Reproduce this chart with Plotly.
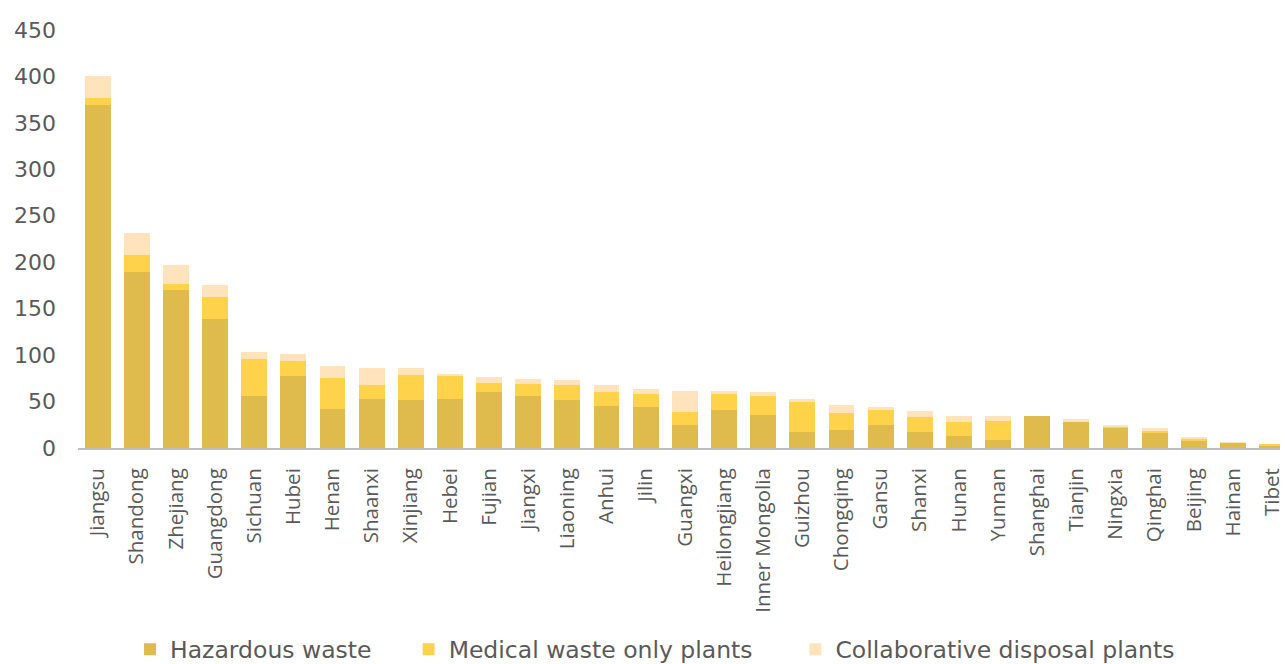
import plotly.graph_objects as go

provinces = ["Jiangsu", "Shandong", "Zhejiang", "Guangdong", "Sichuan", "Hubei", "Henan",
             "Shaanxi", "Xinjiang", "Hebei", "Fujian", "Jiangxi", "Liaoning", "Anhui", "Jilin",
             "Guangxi", "Heilongjiang", "Inner Mongolia", "Guizhou", "Chongqing", "Gansu",
             "Shanxi", "Hunan", "Yunnan", "Shanghai", "Tianjin", "Ningxia", "Qinghai",
             "Beijing", "Hainan", "Tibet"]

hazardous = [369, 189, 170, 139, 56, 77, 42, 53, 52, 53, 60, 56, 52, 45, 44,
             25, 41, 36, 17, 19, 25, 17, 13, 9, 34, 29, 22, 16, 8.5, 5.5, 2.5]
medical_only = [8, 19, 7, 24, 40, 17, 33, 15, 27, 24, 10, 13, 16, 15, 14,
                14, 17, 20, 32, 19, 16, 16, 15, 20, 0, 0, 1, 3, 2, 0, 2]
collaborative = [23, 24, 20, 13, 7, 7, 13, 18, 7, 3, 6, 5, 5, 8, 6,
                 22, 3, 4, 4, 8, 3, 7, 6, 5, 0, 2, 2, 2, 0.5, 0.5, 0]

y_ticks = [0, 50, 100, 150, 200, 250, 300, 350, 400, 450]

TEXT = "#595959"

# name, values, colour, legend id, legend left position (fraction of page width)
series = [
    ("Hazardous waste", hazardous, "#DFBA4D", "legend", 0.1012),
    ("Medical waste only plants", medical_only, "#FED24A", "legend2", 0.3180),
    ("Collaborative disposal plants", collaborative, "#FFE3BC", "legend3", 0.6190),
]

fig = go.Figure()
for name, vals, color, leg, _ in series:
    fig.add_trace(go.Bar(
        x=provinces, y=vals, name=name, legend=leg,
        marker=dict(color=color, line=dict(width=0)),
    ))

legend_style = dict(orientation="h", xref="container", yref="container",
                    yanchor="middle", y=0.022, xanchor="left",
                    font=dict(family="DejaVu Sans", size=23.5, color=TEXT),
                    bgcolor="rgba(0,0,0,0)", borderwidth=0, itemwidth=30)
layout_legends = {leg: dict(legend_style, x=lx) for _, _, _, leg, lx in series}

fig.update_layout(
    width=1285, height=664,
    margin=dict(l=78, r=0, t=30, b=216),
    paper_bgcolor="white", plot_bgcolor="white",
    barmode="stack", bargap=0.34,
    showlegend=True,
    **layout_legends,
    xaxis=dict(
        type="category", range=[-0.5, 30.2],
        tickangle=-90, tickfont=dict(family="Open Sans", size=20.5, color=TEXT),
        showline=True, linecolor="#BFBFBF", linewidth=2,
        showgrid=False, ticks="", ticklabelstandoff=10,
    ),
    yaxis=dict(
        range=[0, 450], tickvals=y_ticks,
        tickfont=dict(family="DejaVu Sans", size=22, color=TEXT),
        showgrid=False, zeroline=False, showline=False, ticks="",
        ticklabelstandoff=21,
    ),
)

fig.write_html("out.html")
